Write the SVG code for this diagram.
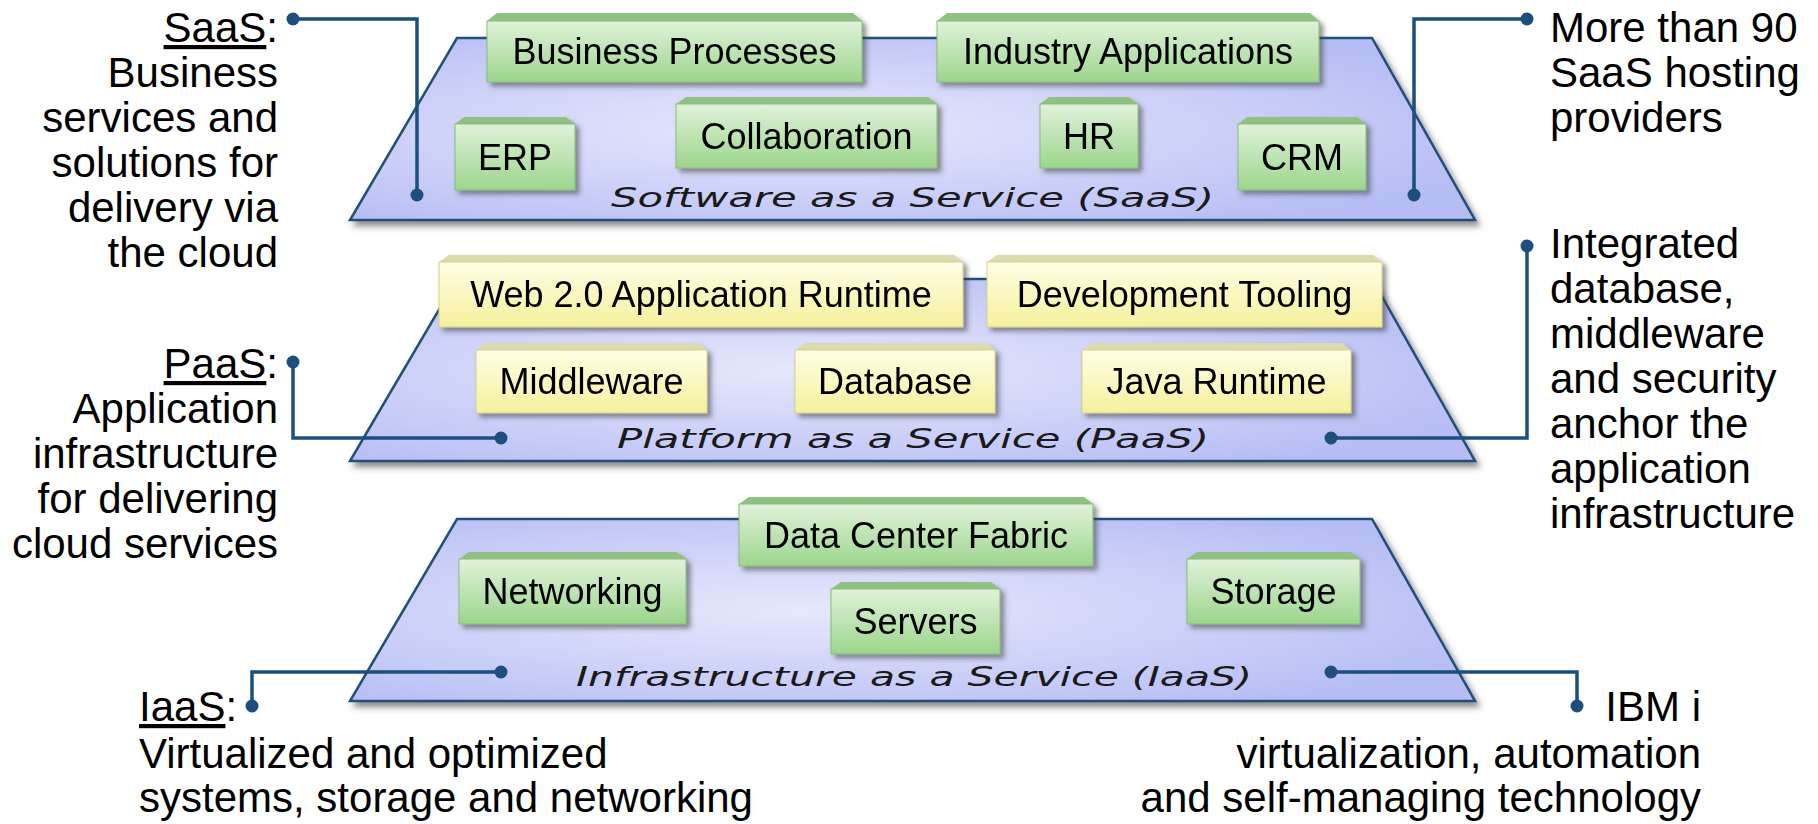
<svg xmlns="http://www.w3.org/2000/svg" width="1818" height="824" viewBox="0 0 1818 824">
<defs>
<radialGradient id="plateFill" cx="0.4" cy="0.5" r="0.65">
<stop offset="0" stop-color="#e6e8fb"/>
<stop offset="0.55" stop-color="#cdd1f8"/>
<stop offset="1" stop-color="#b6bdf4"/>
</radialGradient>
<linearGradient id="greenFace" x1="0" y1="0" x2="0" y2="1">
<stop offset="0" stop-color="#e0f2da"/>
<stop offset="1" stop-color="#9cd58c"/>
</linearGradient>
<linearGradient id="yellowFace" x1="0" y1="0" x2="0" y2="1">
<stop offset="0" stop-color="#fffee6"/>
<stop offset="1" stop-color="#f6f09c"/>
</linearGradient>
<filter id="plateShadow" x="-5%" y="-10%" width="115%" height="130%">
<feDropShadow dx="4" dy="5" stdDeviation="3" flood-color="#404040" flood-opacity="0.6"/>
</filter>
<filter id="boxShadow" x="-10%" y="-20%" width="125%" height="150%">
<feDropShadow dx="4" dy="4" stdDeviation="2.5" flood-color="#404040" flood-opacity="0.55"/>
</filter>
<style>
.side{font-family:"Liberation Sans",Arial,sans-serif;font-size:42px;fill:#000}
.end{text-anchor:end}
.box{font-family:"Liberation Sans",Arial,sans-serif;font-size:36px;fill:#000;text-anchor:middle}
.plabel{font-family:"DejaVu Sans",Verdana,sans-serif;font-style:italic;font-size:26px;fill:#1a1a1a}
.plate{fill:url(#plateFill);stroke:#21507a;stroke-width:2.5;filter:url(#plateShadow)}
.gface{fill:url(#greenFace);stroke:#86bd78;stroke-width:1}
.gbev{fill:#8fc182}
.yface{fill:url(#yellowFace);stroke:#d6d08a;stroke-width:1}
.ybev{fill:#dedab0}
.sh{filter:url(#boxShadow)}
.conn{stroke:#1c4e7e;stroke-width:3.5;fill:none}
.dot{fill:#1c4e7e}
</style>
</defs>
<rect width="1818" height="824" fill="#ffffff"/>

<!-- Plates -->
<g id="plate-saas">
<polygon class="plate" points="457,38 1372,38 1475,220 350,220"/>
<text class="plabel" x="611" y="207" textLength="603" lengthAdjust="spacingAndGlyphs">Software as a Service (SaaS)</text>
</g>
<g id="plate-paas">
<polygon class="plate" points="457,279 1372,279 1475,461 350,461"/>
<text class="plabel" x="617" y="448" textLength="592" lengthAdjust="spacingAndGlyphs">Platform as a Service (PaaS)</text>
</g>
<g id="plate-iaas">
<polygon class="plate" points="457,519 1372,519 1475,701 350,701"/>
<text class="plabel" x="576" y="686" textLength="676" lengthAdjust="spacingAndGlyphs">Infrastructure as a Service (IaaS)</text>
</g>

<!-- SaaS boxes -->
<g id="box-business-processes" class="sh">
<polygon class="gbev" points="497,13 853,13 862,21 487,21"/>
<rect class="gface" x="487" y="21" width="375" height="61"/>
<text class="box" x="674.5" y="64">Business Processes</text>
</g>
<g id="box-industry-applications" class="sh">
<polygon class="gbev" points="947,13 1310,13 1319,21 937,21"/>
<rect class="gface" x="937" y="21" width="382" height="61"/>
<text class="box" x="1128" y="64">Industry Applications</text>
</g>
<g id="box-erp" class="sh">
<polygon class="gbev" points="464,117 566,117 575,124 455,124"/>
<rect class="gface" x="455" y="124" width="120" height="66"/>
<text class="box" x="515" y="170">ERP</text>
</g>
<g id="box-collaboration" class="sh">
<polygon class="gbev" points="686,97 928,97 937,104 676,104"/>
<rect class="gface" x="676" y="104" width="261" height="64"/>
<text class="box" x="806.5" y="149">Collaboration</text>
</g>
<g id="box-hr" class="sh">
<polygon class="gbev" points="1049,97 1129,97 1138,104 1040,104"/>
<rect class="gface" x="1040" y="104" width="98" height="64"/>
<text class="box" x="1089" y="149">HR</text>
</g>
<g id="box-crm" class="sh">
<polygon class="gbev" points="1247,117 1357,117 1366,124 1238,124"/>
<rect class="gface" x="1238" y="124" width="128" height="66"/>
<text class="box" x="1302" y="170">CRM</text>
</g>

<!-- PaaS boxes -->
<g id="box-web20" class="sh">
<polygon class="ybev" points="449,255 954,255 963,262 439,262"/>
<rect class="yface" x="439" y="262" width="524" height="65"/>
<text class="box" x="701" y="307">Web 2.0 Application Runtime</text>
</g>
<g id="box-devtooling" class="sh">
<polygon class="ybev" points="997,255 1373,255 1382,262 987,262"/>
<rect class="yface" x="987" y="262" width="395" height="65"/>
<text class="box" x="1184.5" y="307">Development Tooling</text>
</g>
<g id="box-middleware" class="sh">
<polygon class="ybev" points="486,343 698,343 707,350 476,350"/>
<rect class="yface" x="476" y="350" width="231" height="63"/>
<text class="box" x="591.5" y="394">Middleware</text>
</g>
<g id="box-database" class="sh">
<polygon class="ybev" points="805,343 986,343 995,350 795,350"/>
<rect class="yface" x="795" y="350" width="200" height="63"/>
<text class="box" x="895" y="394">Database</text>
</g>
<g id="box-java-runtime" class="sh">
<polygon class="ybev" points="1092,343 1342,343 1351,350 1082,350"/>
<rect class="yface" x="1082" y="350" width="269" height="63"/>
<text class="box" x="1216.5" y="394">Java Runtime</text>
</g>

<!-- IaaS boxes -->
<g id="box-datacenter" class="sh">
<polygon class="gbev" points="749,497 1084,497 1093,504 739,504"/>
<rect class="gface" x="739" y="504" width="354" height="62"/>
<text class="box" x="916" y="548">Data Center Fabric</text>
</g>
<g id="box-networking" class="sh">
<polygon class="gbev" points="469,552 677,552 686,559 459,559"/>
<rect class="gface" x="459" y="559" width="227" height="65"/>
<text class="box" x="572.5" y="604">Networking</text>
</g>
<g id="box-servers" class="sh">
<polygon class="gbev" points="841,582 991,582 1000,589 831,589"/>
<rect class="gface" x="831" y="589" width="169" height="65"/>
<text class="box" x="915.5" y="634">Servers</text>
</g>
<g id="box-storage" class="sh">
<polygon class="gbev" points="1197,552 1351,552 1360,559 1187,559"/>
<rect class="gface" x="1187" y="559" width="173" height="65"/>
<text class="box" x="1273.5" y="604">Storage</text>
</g>

<!-- Side labels -->
<g id="label-saas">
<text class="side end" x="278" y="42"><tspan text-decoration="underline">SaaS</tspan>:</text>
<text class="side end" x="278" y="87">Business</text>
<text class="side end" x="278" y="132">services and</text>
<text class="side end" x="278" y="177">solutions for</text>
<text class="side end" x="278" y="222">delivery via</text>
<text class="side end" x="278" y="267">the cloud</text>
</g>
<g id="label-paas">
<text class="side end" x="278" y="378"><tspan text-decoration="underline">PaaS</tspan>:</text>
<text class="side end" x="278" y="423">Application</text>
<text class="side end" x="278" y="468">infrastructure</text>
<text class="side end" x="278" y="513">for delivering</text>
<text class="side end" x="278" y="558">cloud services</text>
</g>
<g id="label-iaas">
<text class="side" x="139" y="721"><tspan text-decoration="underline">IaaS</tspan>:</text>
<text class="side" x="139" y="768">Virtualized and optimized</text>
<text class="side" x="139" y="812">systems, storage and networking</text>
</g>
<g id="label-saas-hosting">
<text class="side" x="1550" y="42">More than 90</text>
<text class="side" x="1550" y="87">SaaS hosting</text>
<text class="side" x="1550" y="132">providers</text>
</g>
<g id="label-paas-integrated">
<text class="side" x="1550" y="258">Integrated</text>
<text class="side" x="1550" y="303">database,</text>
<text class="side" x="1550" y="348">middleware</text>
<text class="side" x="1550" y="393">and security</text>
<text class="side" x="1550" y="438">anchor the</text>
<text class="side" x="1550" y="483">application</text>
<text class="side" x="1550" y="528">infrastructure</text>
</g>
<g id="label-ibmi">
<text class="side end" x="1701" y="721">IBM i</text>
<text class="side end" x="1701" y="768">virtualization, automation</text>
<text class="side end" x="1701" y="812">and self-managing technology</text>
</g>

<!-- Connectors -->
<g id="connectors">
<polyline class="conn" points="293,19 417,19 417,195"/>
<circle class="dot" cx="293" cy="19" r="6.5"/>
<circle class="dot" cx="417" cy="195" r="6.5"/>
<polyline class="conn" points="1527,19 1414,19 1414,195"/>
<circle class="dot" cx="1527" cy="19" r="6.5"/>
<circle class="dot" cx="1414" cy="195" r="6.5"/>
<polyline class="conn" points="293,362 293,438 501,438"/>
<circle class="dot" cx="293" cy="362" r="6.5"/>
<circle class="dot" cx="501" cy="438" r="6.5"/>
<polyline class="conn" points="1527,246 1527,438 1331,438"/>
<circle class="dot" cx="1527" cy="246" r="6.5"/>
<circle class="dot" cx="1331" cy="438" r="6.5"/>
<polyline class="conn" points="252,706 252,672 501,672"/>
<circle class="dot" cx="252" cy="706" r="6.5"/>
<circle class="dot" cx="501" cy="672" r="6.5"/>
<polyline class="conn" points="1577,706 1577,672 1331,672"/>
<circle class="dot" cx="1577" cy="706" r="6.5"/>
<circle class="dot" cx="1331" cy="672" r="6.5"/>
</g>
</svg>
